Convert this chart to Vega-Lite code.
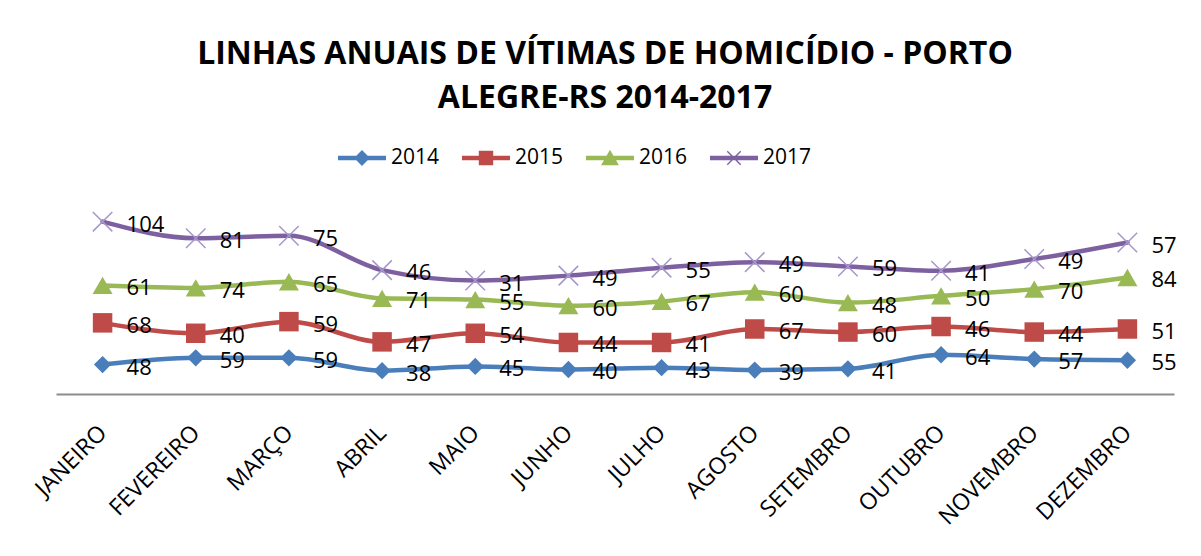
{
  "$schema": "https://vega.github.io/schema/vega-lite/v6.json",
  "autosize": "none",
  "width": 1118,
  "height": 184,
  "padding": {"left": 56, "top": 210, "right": 27, "bottom": 162},
  "background": "white",
  "config": {
    "view": {"stroke": null},
    "font": "Open Sans"
  },
  "title": {
    "text": ["LINHAS ANUAIS DE VÍTIMAS DE HOMICÍDIO - PORTO", "ALEGRE-RS 2014-2017"],
    "font": "Open Sans",
    "fontSize": 32,
    "fontWeight": "bold",
    "color": "#000000",
    "lineHeight": 44,
    "anchor": "middle",
    "frame": "group",
    "dx": -10,
    "offset": 19
  },
  "data": {
    "values": [
      {"month": "JANEIRO", "year": "2014", "value": 48},
      {"month": "FEVEREIRO", "year": "2014", "value": 59},
      {"month": "MARÇO", "year": "2014", "value": 59},
      {"month": "ABRIL", "year": "2014", "value": 38},
      {"month": "MAIO", "year": "2014", "value": 45},
      {"month": "JUNHO", "year": "2014", "value": 40},
      {"month": "JULHO", "year": "2014", "value": 43},
      {"month": "AGOSTO", "year": "2014", "value": 39},
      {"month": "SETEMBRO", "year": "2014", "value": 41},
      {"month": "OUTUBRO", "year": "2014", "value": 64},
      {"month": "NOVEMBRO", "year": "2014", "value": 57},
      {"month": "DEZEMBRO", "year": "2014", "value": 55},
      {"month": "JANEIRO", "year": "2015", "value": 68},
      {"month": "FEVEREIRO", "year": "2015", "value": 40},
      {"month": "MARÇO", "year": "2015", "value": 59},
      {"month": "ABRIL", "year": "2015", "value": 47},
      {"month": "MAIO", "year": "2015", "value": 54},
      {"month": "JUNHO", "year": "2015", "value": 44},
      {"month": "JULHO", "year": "2015", "value": 41},
      {"month": "AGOSTO", "year": "2015", "value": 67},
      {"month": "SETEMBRO", "year": "2015", "value": 60},
      {"month": "OUTUBRO", "year": "2015", "value": 46},
      {"month": "NOVEMBRO", "year": "2015", "value": 44},
      {"month": "DEZEMBRO", "year": "2015", "value": 51},
      {"month": "JANEIRO", "year": "2016", "value": 61},
      {"month": "FEVEREIRO", "year": "2016", "value": 74},
      {"month": "MARÇO", "year": "2016", "value": 65},
      {"month": "ABRIL", "year": "2016", "value": 71},
      {"month": "MAIO", "year": "2016", "value": 55},
      {"month": "JUNHO", "year": "2016", "value": 60},
      {"month": "JULHO", "year": "2016", "value": 67},
      {"month": "AGOSTO", "year": "2016", "value": 60},
      {"month": "SETEMBRO", "year": "2016", "value": 48},
      {"month": "OUTUBRO", "year": "2016", "value": 50},
      {"month": "NOVEMBRO", "year": "2016", "value": 70},
      {"month": "DEZEMBRO", "year": "2016", "value": 84},
      {"month": "JANEIRO", "year": "2017", "value": 104},
      {"month": "FEVEREIRO", "year": "2017", "value": 81},
      {"month": "MARÇO", "year": "2017", "value": 75},
      {"month": "ABRIL", "year": "2017", "value": 46},
      {"month": "MAIO", "year": "2017", "value": 31},
      {"month": "JUNHO", "year": "2017", "value": 49},
      {"month": "JULHO", "year": "2017", "value": 55},
      {"month": "AGOSTO", "year": "2017", "value": 49},
      {"month": "SETEMBRO", "year": "2017", "value": 59},
      {"month": "OUTUBRO", "year": "2017", "value": 41},
      {"month": "NOVEMBRO", "year": "2017", "value": 49},
      {"month": "DEZEMBRO", "year": "2017", "value": 57}
    ]
  },
  "transform": [
    {"stack": "value", "groupby": ["month"], "sort": [{"field": "year", "order": "ascending"}], "as": ["y0", "y1"]}
  ],
  "encoding": {
    "x": {
      "field": "month",
      "type": "ordinal",
      "sort": ["JANEIRO", "FEVEREIRO", "MARÇO", "ABRIL", "MAIO", "JUNHO", "JULHO", "AGOSTO", "SETEMBRO", "OUTUBRO", "NOVEMBRO", "DEZEMBRO"],
      "scale": {"type": "point", "padding": 0.5},
      "axis": {
        "title": null,
        "ticks": false,
        "grid": false,
        "domainColor": "#8c8c8c",
        "domainWidth": 2,
        "labelAngle": -45,
        "labelAlign": "right",
        "labelBaseline": "middle",
        "labelFont": "Open Sans",
        "labelFontSize": 23,
        "labelColor": "#000000",
        "labelPadding": 35
      }
    },
    "y": {
      "field": "y1",
      "type": "quantitative",
      "scale": {"domain": [0, 300], "nice": false, "zero": true},
      "axis": null
    }
  },
  "layer": [
    {
      "mark": {"type": "line", "interpolate": "monotone", "strokeWidth": 4.5, "strokeCap": "round", "strokeJoin": "round"},
      "encoding": {
        "stroke": {
          "field": "year",
          "type": "nominal",
          "scale": {"range": ["#4A7EBB", "#BE4B48", "#98B954", "#7D60A0"]},
          "legend": null
        }
      }
    },
    {
      "transform": [{"filter": "datum.year == '2014'"}],
      "mark": {"type": "point", "shape": "diamond", "filled": true, "opacity": 1, "size": 300, "color": "#4A7EBB"}
    },
    {
      "transform": [{"filter": "datum.year == '2015'"}],
      "mark": {"type": "point", "shape": "square", "filled": true, "opacity": 1, "size": 380, "color": "#BE4B48"}
    },
    {
      "transform": [{"filter": "datum.year == '2016'"}],
      "mark": {"type": "point", "shape": "triangle-up", "filled": true, "opacity": 1, "size": 400, "color": "#98B954"}
    },
    {
      "transform": [{"filter": "datum.year == '2017'"}],
      "mark": {"type": "point", "shape": "M-1,-1L1,1M-1,1L1,-1", "filled": false, "opacity": 1, "size": 380, "stroke": "#A596CC", "strokeWidth": 1.5}
    },
    {
      "mark": {"type": "text", "align": "left", "baseline": "middle", "dx": 24, "dy": 3, "font": "Open Sans", "fontSize": 22, "color": "#000000"},
      "encoding": {"text": {"field": "value", "type": "quantitative"}}
    },
    {
      "mark": {"type": "point", "filled": true, "opacity": 0},
      "encoding": {
        "color": {
          "field": "year",
          "type": "nominal",
          "scale": {"domain": ["2014", "2015", "2016", "2017"], "range": ["#4A7EBB", "#BE4B48", "#98B954", "#7D60A0"]},
          "legend": {
            "title": null,
            "orient": "none",
            "legendX": 282,
            "legendY": -76,
            "direction": "horizontal",
            "symbolSize": 2304,
            "symbolOpacity": 1,
            "symbolStrokeWidth": 0,
            "labelFont": "Open Sans",
            "labelFontSize": 21,
            "labelColor": "#000000",
            "labelOffset": 5,
            "columnPadding": 22,
            "padding": 0
          }
        },
        "shape": {
          "field": "year",
          "type": "nominal",
          "scale": {
            "domain": ["2014", "2015", "2016", "2017"],
            "range": [
              "M-1,-0.09H1V0.09H-1Z M0,-0.33L0.33,0L0,0.33L-0.33,0Z",
              "M-1,-0.09H1V0.09H-1Z M-0.3,-0.3H0.3V0.3H-0.3Z",
              "M-1,-0.09H1V0.09H-1Z M0,-0.34L0.37,0.3H-0.37Z",
              "M-1,-0.09H1V0.09H-1Z M-0.3,-0.26L-0.26,-0.3L0.3,0.26L0.26,0.3Z M0.26,-0.3L0.3,-0.26L-0.26,0.3L-0.3,0.26Z"
            ]
          },
          "legend": {
            "title": null,
            "orient": "none",
            "legendX": 282,
            "legendY": -76,
            "direction": "horizontal",
            "symbolSize": 2304,
            "symbolOpacity": 1,
            "symbolStrokeWidth": 0,
            "labelFont": "Open Sans",
            "labelFontSize": 21,
            "labelColor": "#000000",
            "labelOffset": 5,
            "columnPadding": 22,
            "padding": 0
          }
        }
      }
    }
  ]
}
